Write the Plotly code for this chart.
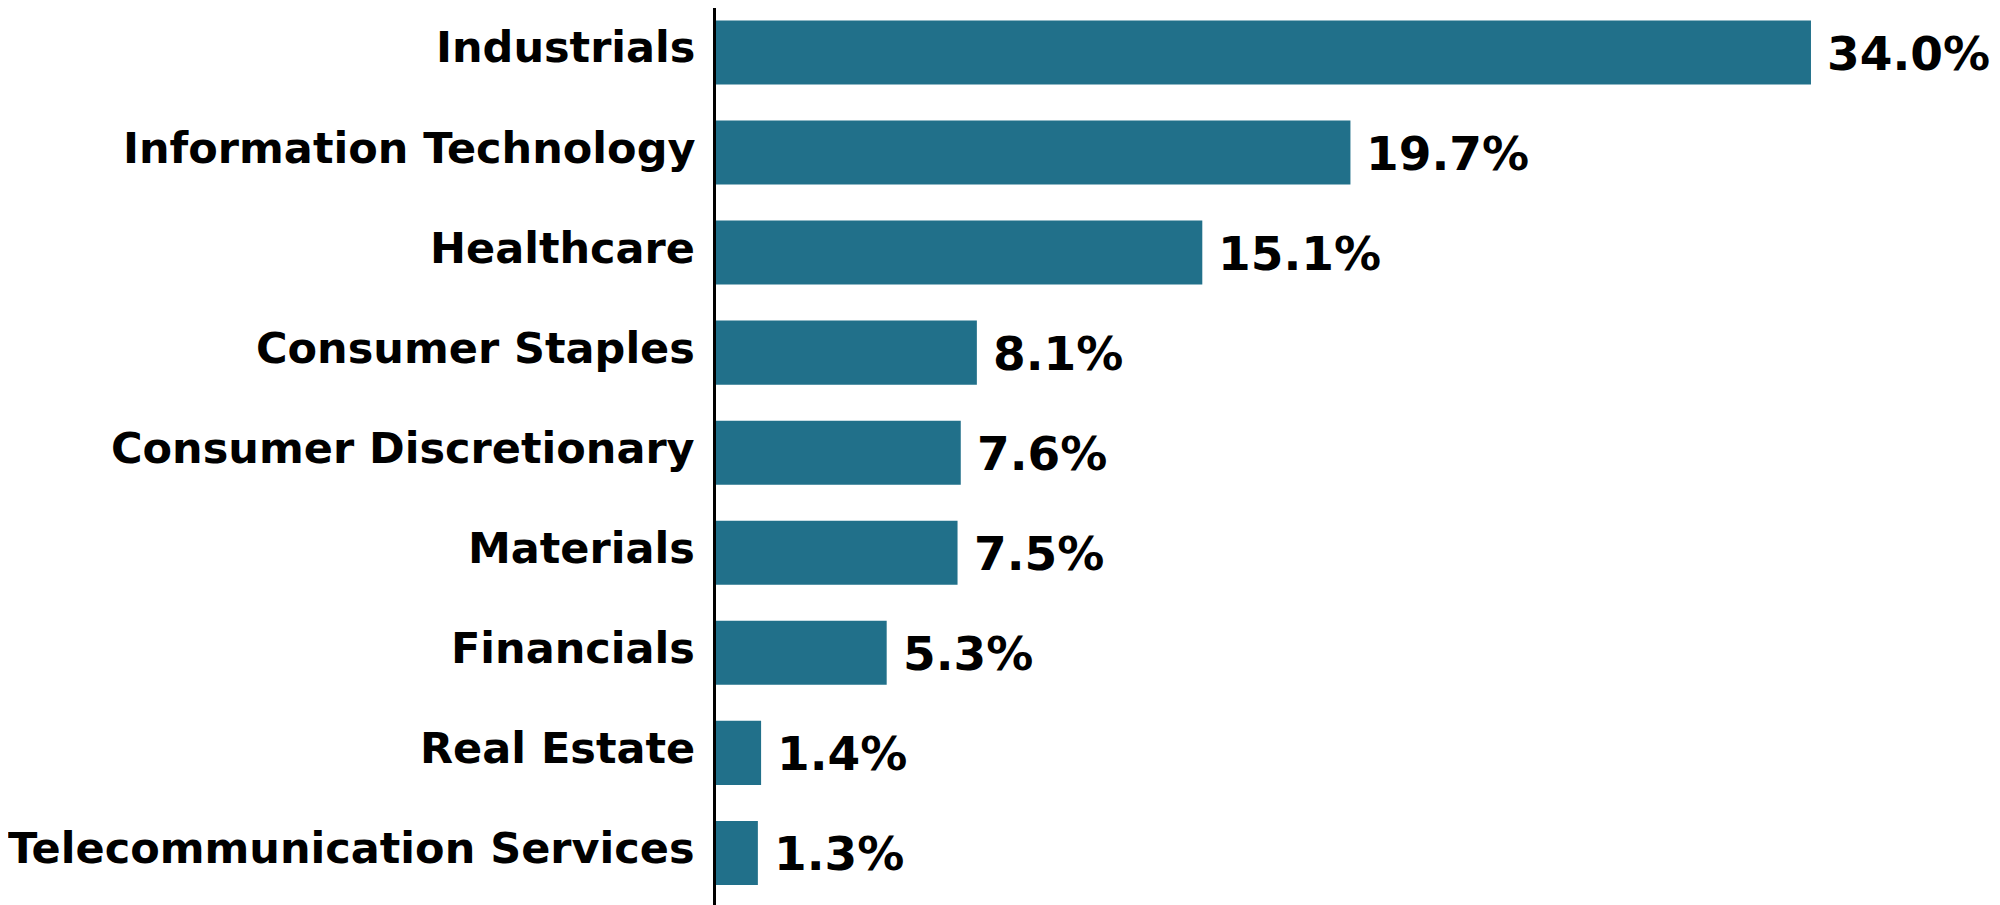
import plotly.graph_objects as go

sectors = [
    "Industrials",
    "Information Technology",
    "Healthcare",
    "Consumer Staples",
    "Consumer Discretionary",
    "Materials",
    "Financials",
    "Real Estate",
    "Telecommunication Services",
]
weights = [34.0, 19.7, 15.1, 8.1, 7.6, 7.5, 5.3, 1.4, 1.3]
labels = [f"{w:.1f}%" for w in weights]

BAR_COLOR = "#21708A"
FONT = "DejaVu Sans"

fig = go.Figure()

fig.add_trace(
    go.Bar(
        x=weights,
        y=sectors,
        orientation="h",
        marker=dict(color=BAR_COLOR, line=dict(width=0)),
        hoverinfo="skip",
    )
)

# value labels just right of each bar
for s, w, t in zip(sectors, weights, labels):
    fig.add_annotation(
        x=w, y=s, text=t, showarrow=False,
        xanchor="left", yanchor="middle", xshift=14, yshift=-1,
        font=dict(family=FONT, size=47, color="black", weight="bold"),
    )

# category labels to the left of the axis line (sit a bit above bar centre)
for s in sectors:
    fig.add_annotation(
        x=0, xref="paper", y=s, text=s, showarrow=False,
        xanchor="right", yanchor="middle", xshift=-19, yshift=5,
        font=dict(family=FONT, size=43, color="black", weight="bold"),
    )

fig.update_layout(
    width=2000,
    height=905,
    margin=dict(l=708, r=36, t=0, b=4),
    paper_bgcolor="white",
    plot_bgcolor="white",
    bargap=0.36,
    showlegend=False,
    xaxis=dict(
        range=[0, 39],
        visible=False,
        showgrid=False,
        zeroline=False,
    ),
    yaxis=dict(
        range=[8.56, -0.444],
        showgrid=False,
        zeroline=False,
        showline=True,
        linecolor="black",
        linewidth=3,
        ticks="",
        showticklabels=False,
    ),
)

fig.write_html("out.html")
